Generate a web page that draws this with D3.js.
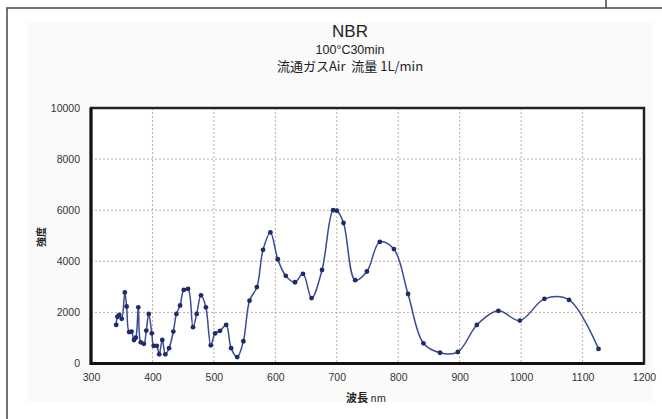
<!DOCTYPE html>
<html>
<head>
<meta charset="utf-8">
<script src="https://cdn.jsdelivr.net/npm/d3@7"></script>
<style>
body { margin:0; background:#fff; }
svg { display:block; font-family:"Liberation Sans", Arial, sans-serif; }
</style>
</head>
<body>
<svg></svg>
<script>
// values
var wavelength = [341,343,346,350,355,358,362,366,370,373,377,381,386,390,394,399,402,407,411,416,421,427,434,439,445,451,458,466,472,479,487,495,502,510,520,528,538,548,558,570,580,592,604,617,632,645,659,676,694,700,711,730,749,770,793,816,841,868,897,928,963,998,1038,1078,1126]
var intensity = [1510,1830,1900,1750,2780,2230,1230,1250,920,1010,2200,830,770,1290,1940,1180,690,690,360,920,360,600,1250,1940,2270,2880,2920,1420,1940,2670,2200,710,1180,1280,1510,600,250,870,2460,2990,4450,5130,4080,3430,3180,3510,2560,3660,6000,5980,5500,3260,3600,4760,4480,2720,790,420,450,1510,2060,1680,2530,2490,570]
var xTicks = [300,400,500,600,700,800,900,1000,1100,1200]
var yTicks = [0,2000,4000,6000,8000,10000]
var titleLines = ["NBR","100°C30min","流通ガスAir\u00a0\u00a0流量 1L/min"]

var screen = {width:662,height:419}
var margins = {left:91,right:18,top:108,bottom:55.5}
var graph = {
    width:screen.width-margins.left-margins.right,
    height:screen.height-margins.top-margins.bottom
}

var svg = d3.select("svg")
    .attr("width",screen.width)
    .attr("height",screen.height)

// page frame from the scanned document
svg.append("rect")
    .attr("x",28).attr("y",22)
    .attr("width",624).attr("height",380)
    .attr("fill","#fafafa")
svg.append("path")
    .attr("d","M7,419 V8 H662 M606,0 V8")
    .attr("fill","none")
    .attr("stroke","#444")
    .attr("stroke-width",1.5)

var xScale = d3.scaleLinear()
    .domain([300,1200])
    .range([0,graph.width])
var yScale = d3.scaleLinear()
    .domain([0,10000])
    .range([graph.height,0])

var target = svg.append("g")
    .attr("id","graph")
    .attr("transform","translate("+margins.left+","+margins.top+")")

target.append("rect")
    .attr("width",graph.width)
    .attr("height",graph.height)
    .attr("fill","#fff")

// dotted grid
target.append("g")
    .selectAll("line")
    .data(xTicks.slice(1,-1))
    .enter()
    .append("line")
    .attr("x1",function(d){return xScale(d)})
    .attr("x2",function(d){return xScale(d)})
    .attr("y1",0)
    .attr("y2",graph.height)
    .attr("stroke","#bcaea2")
    .attr("stroke-dasharray","2,2")
target.append("g")
    .selectAll("line")
    .data(yTicks.slice(1,-1))
    .enter()
    .append("line")
    .attr("y1",function(d){return yScale(d)})
    .attr("y2",function(d){return yScale(d)})
    .attr("x1",0)
    .attr("x2",graph.width)
    .attr("stroke","#c4aa9a")
    .attr("stroke-dasharray","2,2")

// axes (labels only, frame drawn below)
var xAxis = d3.axisBottom(xScale).tickValues(xTicks).tickFormat(d3.format("d")).tickSize(0).tickPadding(10)
var yAxis = d3.axisLeft(yScale).tickValues(yTicks).tickFormat(d3.format("d")).tickSize(0).tickPadding(11)

target.append("g")
    .attr("transform","translate(0,"+graph.height+")")
    .call(xAxis)
    .call(function(g){ g.select(".domain").remove() })
    .selectAll("text")
    .attr("font-size",10.5)
    .attr("font-family","'Liberation Sans', Arial, sans-serif")
    .attr("fill","#333")

target.append("g")
    .call(yAxis)
    .call(function(g){ g.select(".domain").remove() })
    .selectAll("text")
    .attr("font-size",10.5)
    .attr("font-family","'Liberation Sans', Arial, sans-serif")
    .attr("fill","#333")

// plot border
target.append("rect")
    .attr("width",graph.width)
    .attr("height",graph.height)
    .attr("fill","none")
    .attr("stroke","#222")
    .attr("stroke-width",2.5)
target.append("path")
    .attr("d","M0,0 V"+graph.height+" H"+graph.width)
    .attr("fill","none")
    .attr("stroke","#111")
    .attr("stroke-width",3)

// series
var points = wavelength.map(function(w,i){ return {w:w, v:intensity[i]} })

var line = d3.line()
    .x(function(d){ return xScale(d.w) })
    .y(function(d){ return yScale(d.v) })
    .curve(d3.curveCatmullRom.alpha(0.5))

target.append("path")
    .datum(points)
    .attr("fill","none")
    .attr("stroke","#3b4a94")
    .attr("stroke-width",1.5)
    .attr("d",line)

target.selectAll("circle")
    .data(points)
    .enter()
    .append("circle")
    .attr("cx",function(d){ return xScale(d.w) })
    .attr("cy",function(d){ return yScale(d.v) })
    .attr("r",2.4)
    .attr("fill","#1f2b6b")

// titles
var labels = svg.append("g").attr("text-anchor","middle").attr("fill","#222")
labels.append("text")
    .text(titleLines[0])
    .attr("x",350).attr("y",37)
    .attr("font-size",17)
labels.append("text")
    .text(titleLines[1])
    .attr("x",350).attr("y",54)
    .attr("font-size",12.5)
labels.append("text")
    .text(titleLines[2])
    .attr("x",350).attr("y",71)
    .attr("font-size",13)
    .attr("font-family","'Noto Sans CJK JP', sans-serif")

var xLabel = labels.append("text")
    .attr("x",366).attr("y",402)
    .attr("font-family","'Noto Sans CJK JP', sans-serif")
xLabel.append("tspan").text("波長 ").attr("font-size",11).attr("font-weight","bold")
xLabel.append("tspan").text("nm").attr("font-size",10)

labels.append("text")
    .text("強度")
    .attr("transform","translate(45,237) rotate(-90)")
    .attr("font-size",10)
    .attr("font-weight","bold")
    .attr("font-family","'Noto Sans CJK JP', sans-serif")
</script>
</body>
</html>
